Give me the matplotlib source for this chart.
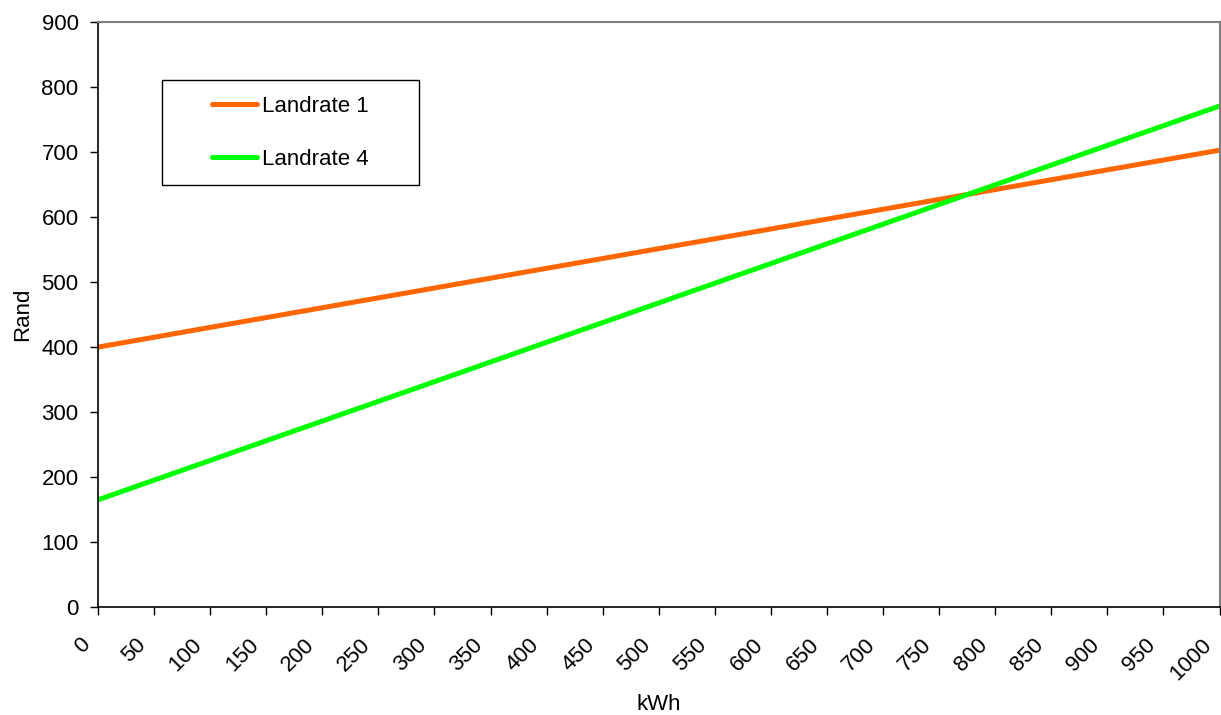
import matplotlib
matplotlib.use("Agg")
import matplotlib.pyplot as plt
import matplotlib.transforms as mtransforms
from matplotlib.patches import Rectangle

# Tariff comparison: cost in Rand against monthly consumption in kWh
kwh = [0, 1000]
landrate_1 = [400, 703]
landrate_4 = [165, 771]

x_ticks = list(range(0, 1001, 50))
y_ticks = list(range(0, 901, 100))

plt.rcParams["font.family"] = ["Liberation Sans", "DejaVu Sans"]
plt.rcParams["font.size"] = 16

fig = plt.figure(figsize=(12.21, 7.15), dpi=100)
ax = fig.add_axes([0.0803, 0.151, 0.9185, 0.818])

ax.plot(kwh, landrate_1, color="#FF6600", linewidth=3.6, label="Landrate 1",
        solid_capstyle="butt")
ax.plot(kwh, landrate_4, color="#00FF00", linewidth=3.6, label="Landrate 4",
        solid_capstyle="butt")

ax.set_xlim(0, 1000)
ax.set_ylim(0, 900)
ax.set_xticks(x_ticks)
ax.set_yticks(y_ticks)
ax.set_xticklabels([str(v) for v in x_ticks], rotation=45, ha="right",
                   va="center", rotation_mode="anchor")
ax.tick_params(direction="out", length=6, width=1, color="black",
               labelsize=16)
ax.tick_params(axis="y", pad=8)
ax.tick_params(axis="x", pad=19)

# nudge the slanted labels left so they sit under their ticks
shift = mtransforms.ScaledTranslation(-11 / 100, 0, fig.dpi_scale_trans)
for lbl in ax.get_xticklabels():
    lbl.set_transform(lbl.get_transform() + shift)

for side in ["left", "bottom"]:
    ax.spines[side].set_color("black")
    ax.spines[side].set_linewidth(1.2)
for side in ["top", "right"]:
    ax.spines[side].set_color("#808080")
    ax.spines[side].set_linewidth(1.5)

ax.set_xlabel("kWh", fontsize=16, labelpad=7)
ax.set_ylabel("Rand", fontsize=16, labelpad=6)

# legend entries without their own frame, boxed by a plain rectangle
leg = ax.legend(loc="upper left", bbox_to_anchor=(0.1016, 0.8735),
                frameon=False, handlelength=2.03, handletextpad=0.23,
                labelspacing=1.44, borderpad=0, borderaxespad=0, fontsize=16)
for ln in leg.get_lines():
    ln.set_solid_capstyle("round")
ax.add_patch(Rectangle((0.057, 0.7214), 0.229, 0.1795, transform=ax.transAxes,
                       facecolor="none", edgecolor="black", linewidth=1.0,
                       zorder=5))

fig.savefig("out.png", dpi=100)
